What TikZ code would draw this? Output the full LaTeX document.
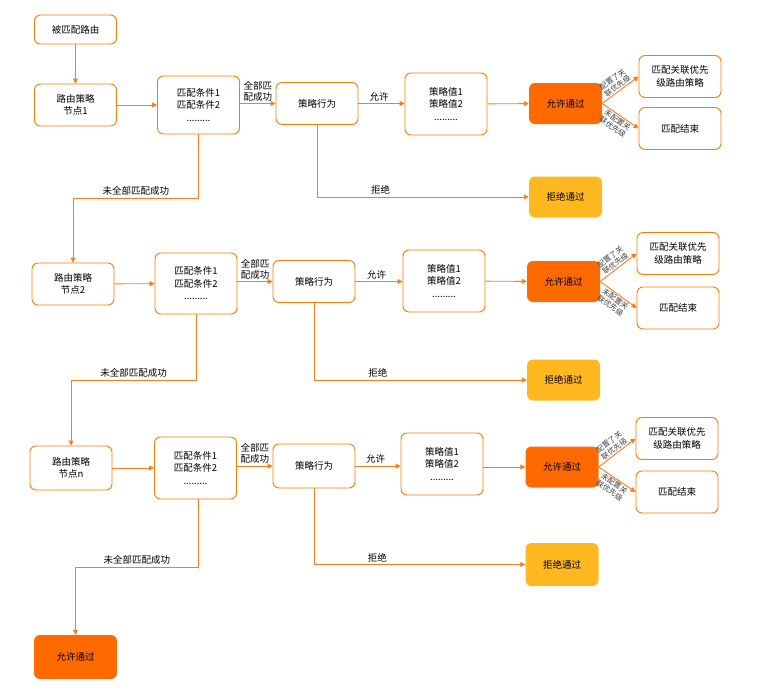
\documentclass[tikz,border=0pt]{standalone}
\usepackage{fontspec}
\newfontfamily\cjk{Noto Sans CJK SC}
\usetikzlibrary{arrows.meta}
\definecolor{lineO}{HTML}{FF7A1A}
\definecolor{boxO}{HTML}{FF7A00}
\definecolor{fillO}{HTML}{FF6A00}
\definecolor{fillY}{HTML}{FFB81F}
\begin{document}
\begin{tikzpicture}[x=1pt,y=-1pt,
  every node/.style={font=\cjk\fontsize{9.5}{12.5}\selectfont, inner sep=1pt},
  wbox/.style={draw=boxO, line width=0.9pt, fill=white, rounded corners=6pt, minimum width=82pt, minimum height=42pt, align=center},
  tallbox/.style={wbox, minimum height=60pt},
  okbox/.style={fill=fillO, rounded corners=6pt, minimum width=73pt, minimum height=41pt, align=center},
  nobox/.style={fill=fillY, rounded corners=6pt, minimum width=73pt, minimum height=41pt, align=center},
  conn/.style={draw=lineO, line width=0.9pt, -{Triangle[length=5pt,width=5pt]}},
  elab/.style={align=center, font=\cjk\fontsize{9.5}{11}\selectfont, inner sep=2pt},
  slab/.style={align=center, font=\cjk\fontsize{7.5}{8.5}\selectfont, text=black!75, sloped, inner sep=1pt}
]
\useasboundingbox (0,0) rectangle (771,694);

% ---------- block 1 ----------
\node[wbox, minimum height=29pt] (s) at (75.5,29.5) {被匹配路由};
\node[wbox] (n1) at (75.5,105) {路由策略\\节点1};
\node[tallbox, minimum height=58pt] (c1) at (198.5,105) {匹配条件1\\匹配条件2\\.........};
\node[wbox] (a1) at (317,103.5) {策略行为};
\node[tallbox, minimum height=62pt] (v1) at (446,104) {策略值1\\策略值2\\.........};
\node[okbox] (p1) at (565.5,103.5) {允许通过};
\node[wbox] (r1) at (680,76.5) {匹配关联优先\\级路由策略};
\node[wbox] (e1) at (680,128.5) {匹配结束};
\node[nobox] (j1) at (565.5,197) {拒绝通过};

% ---------- block 2 ----------
\node[wbox] (n2) at (73,284) {路由策略\\节点2};
\node[tallbox, minimum height=61pt] (c2) at (196,283.5) {匹配条件1\\匹配条件2\\.........};
\node[wbox] (a2) at (314,281.5) {策略行为};
\node[tallbox, minimum height=62pt] (v2) at (444,281) {策略值1\\策略值2\\.........};
\node[okbox] (p2) at (563.5,281.5) {允许通过};
\node[wbox] (r2) at (678,253.5) {匹配关联优先\\级路由策略};
\node[wbox] (e2) at (678,308) {匹配结束};
\node[nobox] (j2) at (563.5,380) {拒绝通过};

% ---------- block 3 ----------
\node[wbox, minimum height=44pt] (n3) at (71,468) {路由策略\\节点n};
\node[tallbox, minimum height=62pt] (c3) at (195.5,468) {匹配条件1\\匹配条件2\\.........};
\node[wbox, minimum height=44pt] (a3) at (314,466) {策略行为};
\node[tallbox, minimum height=62pt] (v3) at (442,464) {策略值1\\策略值2\\.........};
\node[okbox] (p3) at (562,467) {允许通过};
\node[wbox] (r3) at (677,438.5) {匹配关联优先\\级路由策略};
\node[wbox] (e3) at (677,492) {匹配结束};
\node[nobox, minimum height=43pt] (j3) at (562,564.5) {拒绝通过};

\node[okbox, minimum width=83pt, minimum height=44pt] (f) at (75.5,657) {允许通过};

% ---------- connectors block 1 ----------
\draw[conn] (s) -- (n1);
\draw[conn] (n1) -- (c1);
\draw[conn] (c1.east |- a1.west) -- node[above, elab]{全部匹\\配成功} (a1.west);
\draw[conn] (a1) -- node[above, elab, pos=0.45]{允许} (v1.west |- a1.east);
\draw[conn] (v1) -- (p1);
\draw[conn] (p1.east) -- node[slab, above]{配置了关\\联优先级} (r1.west);
\draw[conn] (p1.east) -- node[slab, below]{未配置关\\联优先级} (e1.west);
\draw[conn] (a1.south) |- node[pos=0.65, above, elab]{拒绝} (j1.west);
\coordinate (k1) at (198.5,198);
\draw[conn] (c1.south) -- (k1) -| node[pos=0.25, above, elab]{未全部匹配成功} (n2.north);

% ---------- connectors block 2 ----------
\draw[conn] (n2) -- (c2);
\draw[conn] (c2.east |- a2.west) -- node[above, elab]{全部匹\\配成功} (a2.west);
\draw[conn] (a2) -- node[above, elab, pos=0.45]{允许} (v2.west |- a2.east);
\draw[conn] (v2) -- (p2);
\draw[conn] (p2.east) -- node[slab, above]{配置了关\\联优先级} (r2.west);
\draw[conn] (p2.east) -- node[slab, below]{未配置关\\联优先级} (e2.west);
\draw[conn] (a2.south) |- node[pos=0.65, above, elab]{拒绝} (j2.west);
\coordinate (k2) at (196,380);
\draw[conn] (c2.south) -- (k2) -| node[pos=0.25, above, elab]{未全部匹配成功} (n3.north);

% ---------- connectors block 3 ----------
\draw[conn] (n3) -- (c3.west |- n3.east);
\draw[conn] (c3.east |- a3.west) -- node[above, elab]{全部匹\\配成功} (a3.west);
\draw[conn] (a3) -- node[above, elab, pos=0.45]{允许} (v3.west |- a3.east);
\draw[conn] (v3.east |- p3.west) -- (p3.west);
\draw[conn] (p3.east) -- node[slab, above]{配置了关\\联优先级} (r3.west);
\draw[conn] (p3.east) -- node[slab, below]{未配置关\\联优先级} (e3.west);
\draw[conn] (a3.south) |- node[pos=0.65, above, elab]{拒绝} (j3.west);
\coordinate (k3) at (198,567);
\draw[conn] (c3.south -| k3) -- (k3) -| node[pos=0.25, above, elab]{未全部匹配成功} (f.north);
\end{tikzpicture}
\end{document}
